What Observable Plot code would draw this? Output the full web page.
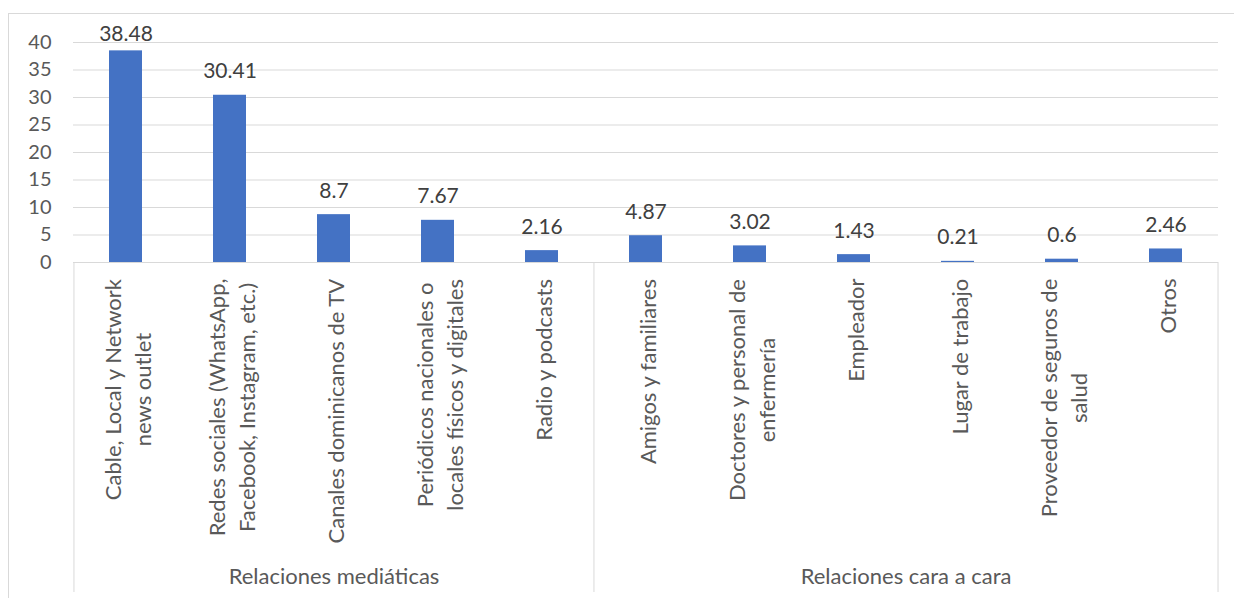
<!DOCTYPE html>
<html>
<head>
<meta charset="utf-8">
<script src="https://cdn.jsdelivr.net/npm/d3@7"></script>
<script src="https://cdn.jsdelivr.net/npm/@observablehq/plot@0.6"></script>
<style>
  html, body { margin: 0; padding: 0; background: #fff; }
  #wrap { position: relative; width: 1234px; height: 598px; overflow: hidden; }
  #border { position: absolute; left: 8px; top: 13px; width: 1400px; height: 800px;
            border-left: 1px solid #d9d9d9; border-top: 1px solid #d9d9d9; pointer-events: none; }
  #chart { position: absolute; left: 0; top: 0; }
</style>
</head>
<body>
<div id="wrap"><div id="border"></div><div id="chart"></div></div>
<script>
// ---- Data ----
const categories = [
  "Cable, Local y Network\nnews outlet",
  "Redes sociales (WhatsApp,\nFacebook, Instagram, etc.)",
  "Canales dominicanos de TV",
  "Periódicos nacionales o\nlocales físicos y digitales",
  "Radio y podcasts",
  "Amigos y familiares",
  "Doctores y personal de\nenfermería",
  "Empleador",
  "Lugar de trabajo",
  "Proveedor de seguros de\nsalud",
  "Otros"
];
const values = [38.48, 30.41, 8.7, 7.67, 2.16, 4.87, 3.02, 1.43, 0.21, 0.6, 2.46];
const groups = [
  "Relaciones mediáticas", "Relaciones mediáticas", "Relaciones mediáticas",
  "Relaciones mediáticas", "Relaciones mediáticas",
  "Relaciones cara a cara", "Relaciones cara a cara", "Relaciones cara a cara",
  "Relaciones cara a cara", "Relaciones cara a cara", "Relaciones cara a cara"
];
const yTicks = [0, 5, 10, 15, 20, 25, 30, 35, 40];
const yDomain = [0, 40];

// ---- Layout / style ----
const W = 1234, H = 598;
const mL = 73, mR = 16, mT = 42, mB = 336;
const FONT = "Lato";
const FS_TICK = 20, FS_VAL = 21, FS_CAT = 22;
const barColor = "#4472C4";
const gridColor = "#d9d9d9";
const axisText = "#595959";
const valueText = "#404040";

const rows = categories.map((c, i) => ({category: c, value: values[i], group: groups[i]}));

// mirror scales for pixel-based offsets
const step = (W - mR - mL) / categories.length;
const yPix = d3.scaleLinear(yDomain, [H - mB, mT]);
const labelTopLimit = mT - 2;       // label baseline may not go above this
const labelGap = 17;                 // px between bar top and label baseline
const labelY = v => yPix.invert(Math.max(yPix(v) - labelGap, labelTopLimit));

// text measurement
const ctx = document.createElement("canvas").getContext("2d");
ctx.font = `${FS_CAT}px ${FONT}`;
const maxLineWidth = s => d3.max(s.split("\n"), l => ctx.measureText(l).width);

const marks = [];
// gridlines (incl. axis line at 0)
marks.push(Plot.ruleY(yTicks, {stroke: gridColor, strokeWidth: 1}));
// bars
marks.push(Plot.barY(rows, {x: "category", y: "value", fill: barColor}));
// value labels
marks.push(Plot.text(rows, {
  x: "category", y: d => labelY(d.value), text: d => String(d.value),
  lineAnchor: "bottom", fontSize: FS_VAL, fill: valueText
}));
// y axis
marks.push(Plot.axisY(yTicks, {label: null, tickSize: 0, tickPadding: 22, fontSize: FS_TICK, fill: axisText}));
// category labels (rotated, lines centred on each other, longest line starting 16px below axis)
rows.forEach(r => {
  marks.push(Plot.text([r], {
    x: "category", text: "category", frameAnchor: "bottom",
    rotate: -90, textAnchor: "middle", lineAnchor: "middle", lineHeight: 30 / FS_CAT,
    dy: 16 + maxLineWidth(r.category) / 2, fontSize: FS_CAT, fill: axisText
  }));
});
// group separators
const groupNames = Array.from(new Set(groups));
const groupStarts = groupNames.map(g => categories[groups.indexOf(g)]);
marks.push(Plot.ruleX(groupStarts, {x: d => d, dx: -step / 2, stroke: gridColor, insetTop: H - mB - mT, insetBottom: -330}));
marks.push(Plot.ruleX([categories[categories.length - 1]], {x: d => d, dx: step / 2, stroke: gridColor, insetTop: H - mB - mT, insetBottom: -330}));
// group labels
groupNames.forEach(g => {
  const idx = groups.map((gg, i) => gg === g ? i : -1).filter(i => i >= 0);
  const mid = (idx[0] + idx[idx.length - 1]) / 2;
  const base = Math.floor(mid);
  marks.push(Plot.text([g], {
    x: () => categories[base], text: d => d, frameAnchor: "bottom",
    dx: (mid - base) * step, dy: 321, lineAnchor: "bottom",
    fontSize: FS_CAT, fill: axisText
  }));
});

const chart = Plot.plot({
  width: W, height: H,
  marginLeft: mL, marginRight: mR, marginTop: mT, marginBottom: mB,
  style: {fontFamily: FONT, fontSize: FS_TICK + "px", background: "transparent", overflow: "visible"},
  x: {domain: categories, paddingInner: 0.686, paddingOuter: 0.343, axis: null},
  y: {domain: yDomain, axis: null},
  marks
});
document.getElementById("chart").append(chart);
</script>
</body>
</html>
